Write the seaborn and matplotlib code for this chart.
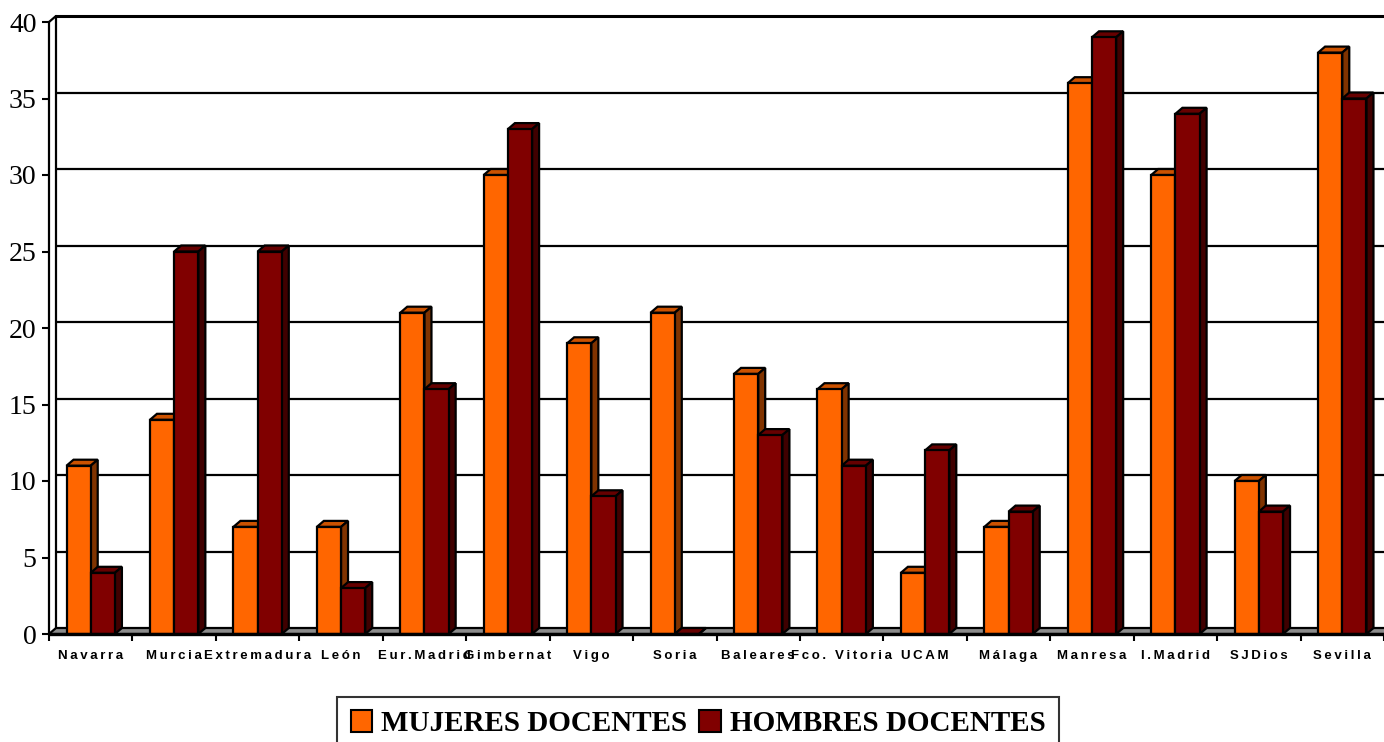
import numpy as np
import pandas as pd
import matplotlib
matplotlib.use('Agg')
from matplotlib import pyplot as plt
from matplotlib.patches import Polygon, Patch
import seaborn as sns

sedes = ['Navarra', 'Murcia', 'Extremadura', 'León', 'Eur.Madrid', 'Gimbernat', 'Vigo', 'Soria',
         'Baleares', 'Fco. Vitoria', 'UCAM', 'Málaga', 'Manresa', 'I.Madrid', 'SJDios', 'Sevilla']
mujeres = [11, 14, 7, 7, 21, 30, 19, 21, 17, 16, 4, 7, 36, 30, 10, 38]
hombres = [4, 25, 25, 3, 16, 33, 9, 0, 13, 11, 12, 8, 39, 34, 8, 35]
grupos = ['MUJERES DOCENTES', 'HOMBRES DOCENTES']

# front, top, side colours for each series
caras = {
    'MUJERES DOCENTES': ('#FF6600', '#CC5200', '#803300'),
    'HOMBRES DOCENTES': ('#800000', '#660000', '#400000'),
}

df = pd.DataFrame({
    'sede': sedes * 2,
    'valor': mujeres + hombres,
    'grupo': [grupos[0]] * len(sedes) + [grupos[1]] * len(sedes),
})

sns.set_theme(style='white')
plt.rcParams['font.family'] = ['Liberation Serif', 'DejaVu Serif']
plt.rcParams['text.color'] = 'black'
plt.rcParams['xtick.labelcolor'] = 'black'
plt.rcParams['ytick.labelcolor'] = 'black'

W, H = 1384, 742
fig = plt.figure(figsize=(W / 100, H / 100), dpi=100)
ax = fig.add_axes([49 / W, 108 / H, 1335 / W, 612 / H])

sns.barplot(data=df, x='sede', y='valor', hue='grupo', order=sedes, hue_order=grupos,
            palette=[caras[g][0] for g in grupos], saturation=1, width=0.58,
            edgecolor='black', linewidth=1.6, legend=False, ax=ax)

ax.set_xlim(-0.5, 15.5)
ax.set_ylim(0, 40)
for s in ax.spines.values():
    s.set_visible(False)

# depth of the fake 3d: 7px right, 6px up
dx = 7 * 16 / 1335
dy = 6 * 40 / 612

n = len(sedes)
for i, p in enumerate(ax.patches[:2 * n]):
    g = grupos[i // n]
    _, top, side = caras[g]
    z = 3 if i < n else 5
    p.set_zorder(z)
    x0 = p.get_x()
    x1 = x0 + p.get_width()
    h = p.get_height()
    ax.add_patch(Polygon([(x0, h), (x1, h), (x1 + dx, h + dy), (x0 + dx, h + dy)], closed=True,
                         facecolor=top, edgecolor='black', lw=1.6, zorder=z - 0.1, clip_on=False))
    ax.add_patch(Polygon([(x1, 0), (x1, h), (x1 + dx, h + dy), (x1 + dx, dy)], closed=True,
                         facecolor=side, edgecolor='black', lw=1.6, zorder=z - 0.1, clip_on=False))

# back wall grid lines
for v in range(5, 41, 5):
    ax.plot([-0.5 + dx, 15.6], [v + dy, v + dy], color='black', lw=2.2 if v == 40 else 1.6,
            zorder=1, clip_on=False, solid_capstyle='butt')

# floor
ax.add_patch(Polygon([(-0.5, 0), (15.6, 0), (15.6, dy), (-0.5 + dx, dy)], closed=True,
                     facecolor='#8c8c8c', edgecolor='black', lw=1.6, zorder=1.5, clip_on=False))
ax.plot([-0.5, 15.6], [0, 0], color='black', lw=2.4, zorder=6, clip_on=False, solid_capstyle='butt')

# left wall
ax.plot([-0.5, -0.5], [0, 40], color='black', lw=1.6, zorder=2, clip_on=False)
ax.plot([-0.5 + dx, -0.5 + dx], [dy, 40 + dy], color='black', lw=1.6, zorder=2, clip_on=False)
ax.plot([-0.5, -0.5 + dx], [40, 40 + dy], color='black', lw=1.6, zorder=2, clip_on=False)

ax.set_yticks(range(0, 41, 5))
ax.set_yticklabels([str(v) for v in range(0, 41, 5)], fontsize=20)
ax.tick_params(axis='y', which='major', left=True, length=5, width=1.5, color='black', pad=4)

ax.set_xticks(np.arange(-0.5, 16, 1))
ax.set_xticklabels([])
ax.tick_params(axis='x', which='major', bottom=True, length=5, width=1.5, color='black')
ax.set_xticks(range(n), minor=True)
ax.set_xticklabels(['\u2009'.join(s) for s in sedes], minor=True, fontsize=9.5, fontweight='bold',
                   family=['Liberation Sans', 'DejaVu Sans'])
ax.tick_params(axis='x', which='minor', bottom=True, length=0, pad=11.5)
ax.set_xlabel('')
ax.set_ylabel('')
ax.grid(False)

handles = [Patch(facecolor=caras[g][0], edgecolor='black', lw=1.5) for g in grupos]
leg = fig.legend(handles, grupos, loc='upper center', bbox_to_anchor=(698 / W, 1 - 697 / H),
                 ncol=2, frameon=True, fancybox=False, handlelength=0.75, handleheight=0.75,
                 handletextpad=0.3, columnspacing=0.4, borderpad=0.45, borderaxespad=0,
                 prop={'family': 'Liberation Serif', 'weight': 'bold', 'size': 21})
leg.get_frame().set_edgecolor('black')
leg.get_frame().set_linewidth(1.5)

fig.savefig('out.png', dpi=100)
